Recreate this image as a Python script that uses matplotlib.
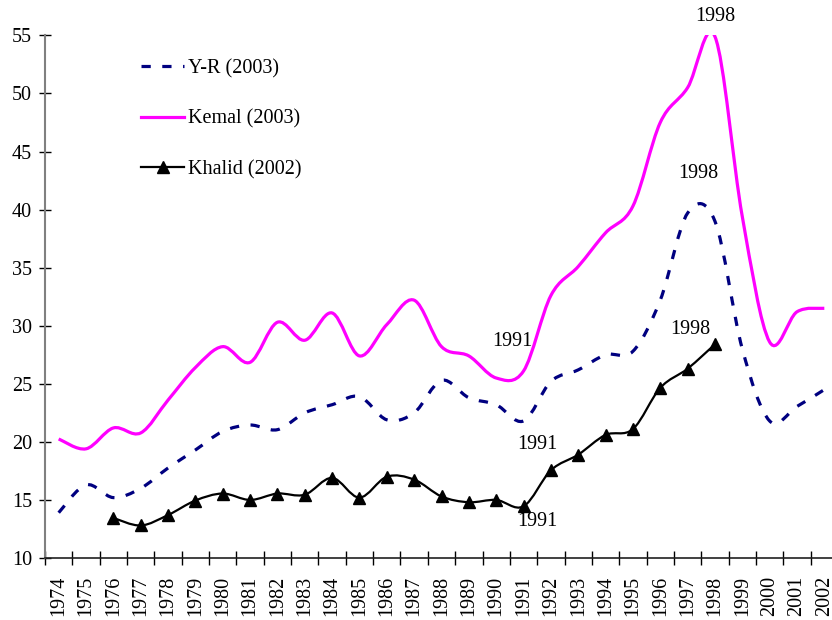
import numpy as np
import matplotlib
matplotlib.use('agg')
import matplotlib.pyplot as plt
from matplotlib.path import Path
from matplotlib.patches import PathPatch
from matplotlib.lines import Line2D

plt.rcParams['font.family'] = ['Liberation Serif', 'DejaVu Serif']

years = list(range(1974, 2003))

yr_values = [13.9, 16.3, 15.2, 16.0, 17.75, 19.3, 20.9, 21.45, 21.05, 22.5,
             23.2, 23.9, 21.9, 22.5, 25.3, 23.8, 23.2, 21.8, 25.2, 26.2,
             27.5, 27.8, 32.2, 39.7, 39.0, 28.0, 21.8, 23.05, 24.5]

kemal_values = [20.25, 19.4, 21.2, 20.77, 23.6, 26.4, 28.2, 26.85, 30.3, 28.75,
                31.1, 27.4, 30.1, 32.2, 28.2, 27.4, 25.5, 26.1, 32.6, 35.1,
                38.0, 40.3, 47.5, 50.5, 54.9, 39.4, 28.6, 31.2, 31.5]

khalid_years = list(range(1976, 1999))
khalid_values = [13.45, 12.8, 13.7, 14.95, 15.55, 15.0, 15.55, 15.45, 16.9, 15.2,
                 17.0, 16.75, 15.3, 14.8, 15.0, 14.45, 17.55, 18.9, 20.6, 21.1,
                 24.65, 26.3, 28.4]

# (text, year, value) for the year labels on the curves
annotations = [("1998", 1998, 56.6), ("1998", 1997.4, 43.1), ("1998", 1997.1, 29.7),
               ("1991", 1990.6, 28.6), ("1991", 1991.5, 19.8), ("1991", 1991.5, 13.1)]


def smooth_path(xs, ys):
    # Excel style smoothed line: cubic bezier with catmull-rom control points
    pts = list(zip(xs, ys))
    verts = [pts[0]]
    codes = [Path.MOVETO]
    n = len(pts)
    for i in range(n - 1):
        p0 = pts[max(i - 1, 0)]
        p1 = pts[i]
        p2 = pts[i + 1]
        p3 = pts[min(i + 2, n - 1)]
        c1 = (p1[0] + (p2[0] - p0[0]) / 6, p1[1] + (p2[1] - p0[1]) / 6)
        c2 = (p2[0] - (p3[0] - p1[0]) / 6, p2[1] - (p3[1] - p1[1]) / 6)
        verts += [c1, c2, p2]
        codes += [Path.CURVE4] * 3
    return Path(verts, codes)


fig = plt.figure(figsize=(8.32, 6.2), dpi=100)
ax = fig.add_axes([45 / 832, 62 / 620, 793 / 832, 522.6 / 620])

navy = '#000080'
magenta = '#FF00FF'
yr_dash = (0, (2.9, 3.6))

ax.add_patch(PathPatch(smooth_path(years, yr_values), fill=False, edgecolor=navy,
                       linewidth=2.3, linestyle=yr_dash, capstyle='butt'))
ax.add_patch(PathPatch(smooth_path(years, kemal_values), fill=False, edgecolor=magenta,
                       linewidth=2.3))
ax.add_patch(PathPatch(smooth_path(khalid_years, khalid_values), fill=False, edgecolor='black',
                       linewidth=1.6))
ax.plot(khalid_years, khalid_values, linestyle='none', marker='^', markersize=8, color='black')

for txt, x, y in annotations:
    ax.text(x, y, txt, ha='center', va='center', fontsize=14.5, clip_on=False)

ax.set_xlim(1973.5, 2002.5)
ax.set_ylim(10, 55)

ax.set_yticks(range(10, 56, 5))
ax.tick_params(axis='y', direction='inout', length=8.6, labelsize=14.5, pad=5, width=1)
ax.set_xticks(years)
ax.set_xticklabels([str(y) for y in years], rotation=90)
ax.tick_params(axis='x', which='major', length=0, labelsize=14.5, pad=13)
ax.set_xticks(np.arange(1973.5, 2003, 1), minor=True)
ax.tick_params(axis='x', which='minor', direction='inout', length=9.5, width=1)

ax.spines['top'].set_visible(False)
ax.spines['right'].set_visible(False)
ax.spines['left'].set_color('#808080')
ax.spines['left'].set_linewidth(1.5)
ax.spines['bottom'].set_color('#202020')
ax.spines['bottom'].set_linewidth(1.2)

handles = [Line2D([], [], color=navy, linewidth=2.3, linestyle=yr_dash),
           Line2D([], [], color=magenta, linewidth=2.3),
           Line2D([], [], color='black', linewidth=1.6, marker='^', markersize=8)]
labels = ['Y-R (2003)', 'Kemal (2003)', 'Khalid (2002)']
ax.legend(handles, labels, loc='upper left', bbox_to_anchor=(141 / 832, 1 - 59 / 620),
          bbox_transform=fig.transFigure, frameon=False, fontsize=14.5, borderpad=0,
          borderaxespad=0, handlelength=2.15, handletextpad=0.2, labelspacing=1.55)

plt.savefig('out.png', dpi=100)
plt.close()
